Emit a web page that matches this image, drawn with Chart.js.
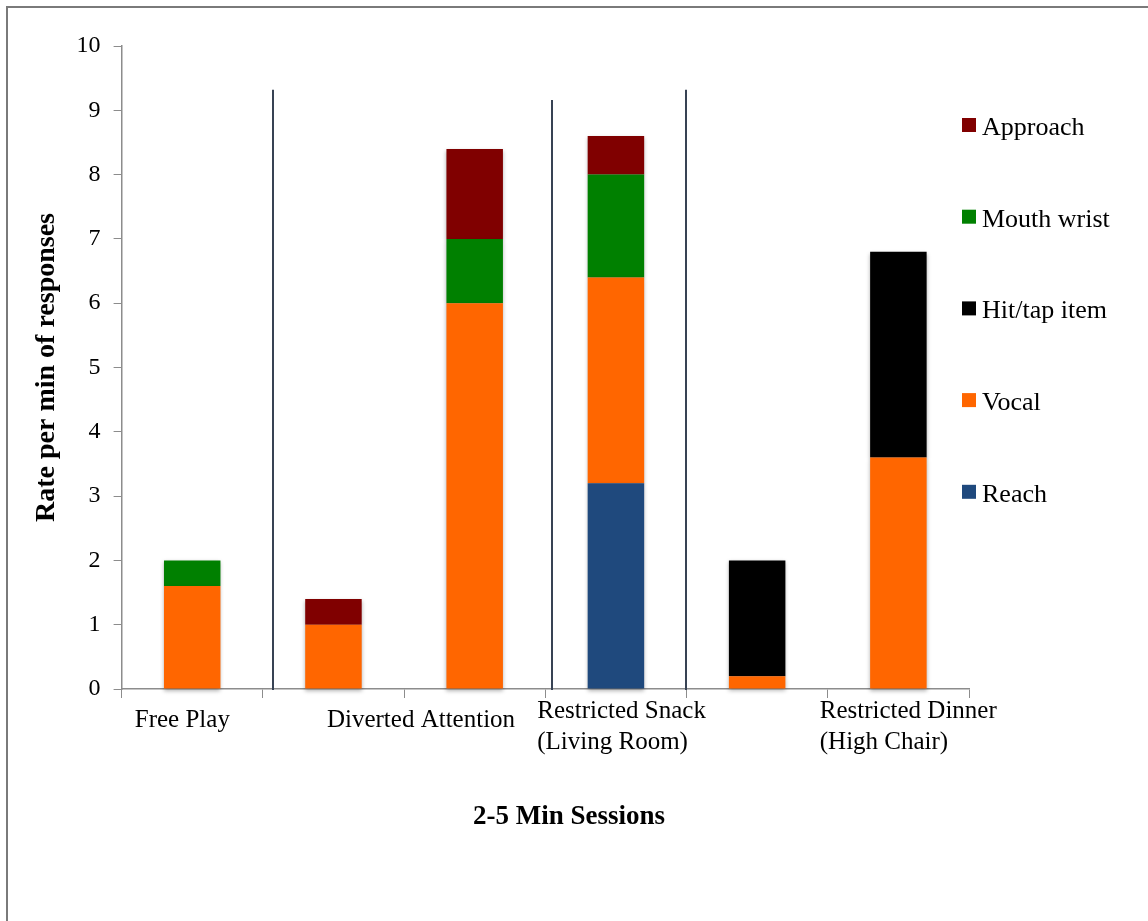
<!DOCTYPE html>
<html>
<head>
<meta charset="utf-8">
<script src="https://cdn.jsdelivr.net/npm/chart.js@4.4.1/dist/chart.umd.min.js"></script>
<style>
  html, body { margin: 0; padding: 0; background: #fff; }
  #wrap { width: 1148px; height: 921px; position: relative; }
</style>
</head>
<body>
<div id="wrap"><canvas id="chart"></canvas></div>
<script>
// one bar per session, grouped under four conditions
const sessions = ['S1', 'S2', 'S3', 'S4', 'S5', 'S6'];
const conditions = [
  ['Free Play'],
  ['Diverted Attention'],
  ['Restricted Snack', '(Living Room)'],
  ['Restricted Dinner', '(High Chair)']
];
const xTitle = '2-5 Min Sessions';

// rate per minute, stacked bottom to top
const reach      = [null, null, null, 3.2, null, null];
const vocal      = [1.6, 1.0, 6.0, 3.2, 0.2, 3.6];
const hitTap     = [null, null, null, null, 1.8, 3.2];
const mouthWrist = [0.4, null, 1.0, 1.6, null, null];
const approach   = [null, 0.4, 1.4, 0.6, null, null];

const serif = '"Liberation Serif", "Times New Roman", serif';

// frame, condition dividers, condition names, x title and the legend
const decorations = {
  id: 'decorations',
  beforeDraw(chart) {
    const ctx = chart.ctx;
    ctx.save();
    ctx.strokeStyle = '#7a7a7a';
    ctx.lineWidth = 2;
    ctx.strokeRect(7, 7, chart.width + 10, chart.height + 10);
    ctx.restore();
  },
  beforeDatasetsDraw(chart) {
    const ctx = chart.ctx;
    ctx.save();
    ctx.shadowColor = 'rgba(0,0,0,0.3)';
    ctx.shadowBlur = 4;
    ctx.shadowOffsetY = 2;
  },
  afterDatasetsDraw(chart, args, opts) {
    const ctx = chart.ctx;
    ctx.restore();
    const x = chart.scales.x, y = chart.scales.y, area = chart.chartArea;

    // divider lines between conditions
    ctx.save();
    ctx.strokeStyle = '#384354';
    ctx.lineWidth = 2;
    opts.dividers.forEach(d => {
      const px = Math.round(x.getPixelForValue(d.at));
      ctx.beginPath();
      ctx.moveTo(px, y.getPixelForValue(d.top));
      ctx.lineTo(px, area.bottom + 1);
      ctx.stroke();
    });
    ctx.restore();

    // condition names under the axis
    ctx.save();
    ctx.fillStyle = '#000';
    ctx.font = '25px ' + serif;
    ctx.textBaseline = 'middle';
    ctx.textAlign = 'left';
    conditions.forEach((lines, i) => {
      const cx = x.getPixelForValue(opts.conditionAt[i]);
      const w = Math.max(...lines.map(l => ctx.measureText(l).width));
      const y0 = lines.length === 1 ? area.bottom + 31 : area.bottom + 22;
      lines.forEach((l, j) => ctx.fillText(l, cx - w / 2, y0 + j * 31));
    });

    // axis title, centred on the whole figure
    ctx.font = 'bold 27px ' + serif;
    ctx.textAlign = 'center';
    ctx.fillText(xTitle, chart.width / 2 - 5, area.bottom + 128);
    ctx.restore();

    // legend, top series first
    ctx.save();
    ctx.font = '26px ' + serif;
    ctx.textBaseline = 'middle';
    ctx.textAlign = 'left';
    const items = chart.data.datasets.slice().reverse();
    items.forEach((ds, i) => {
      const cy = area.top + 79 + i * 91.7;
      ctx.fillStyle = ds.backgroundColor;
      ctx.fillRect(area.right - 7, cy - 7, 14, 14);
      ctx.fillStyle = '#000';
      ctx.fillText(ds.label, area.right + 13, cy + 3);
    });
    ctx.restore();
  }
};

new Chart(document.getElementById('chart'), {
  type: 'bar',
  data: {
    labels: sessions,
    datasets: [
      { label: 'Reach', data: reach, backgroundColor: '#1f497d' },
      { label: 'Vocal', data: vocal, backgroundColor: '#ff6600' },
      { label: 'Hit/tap item', data: hitTap, backgroundColor: '#000000' },
      { label: 'Mouth wrist', data: mouthWrist, backgroundColor: '#008000' },
      { label: 'Approach', data: approach, backgroundColor: '#800000' }
    ].map(ds => Object.assign(ds, { barPercentage: 0.4, categoryPercentage: 1, clip: false }))
  },
  options: {
    responsive: true,
    maintainAspectRatio: false,
    animation: false,
    layout: { padding: { left: 30, right: 179, top: 46, bottom: 223 } },
    plugins: {
      legend: { display: false },
      tooltip: { enabled: false },
      decorations: {
        dividers: [
          { at: 0.57, top: 9.32 },
          { at: 2.546, top: 9.16 },
          { at: 3.495, top: 9.32 }
        ],
        conditionAt: [-0.07, 1.62, 3.04, 5.07]
      }
    },
    scales: {
      x: {
        stacked: true,
        grid: { offset: true, drawOnChartArea: false, tickLength: 9, color: '#8c8c8c' },
        border: { color: '#8c8c8c', width: 1.5 },
        ticks: { display: false }
      },
      y: {
        stacked: true,
        min: 0,
        max: 10,
        grid: { drawOnChartArea: false, tickLength: 8, color: '#8c8c8c' },
        border: { color: '#8c8c8c', width: 1.5 },
        ticks: { stepSize: 1, padding: 13, color: '#000', font: { family: serif, size: 24 } },
        title: {
          display: true,
          text: 'Rate per min of responses',
          color: '#000',
          font: { family: serif, size: 28, weight: 'bold' },
          padding: { top: 0, bottom: 0 }
        }
      }
    }
  },
  plugins: [decorations]
});
</script>
</body>
</html>
